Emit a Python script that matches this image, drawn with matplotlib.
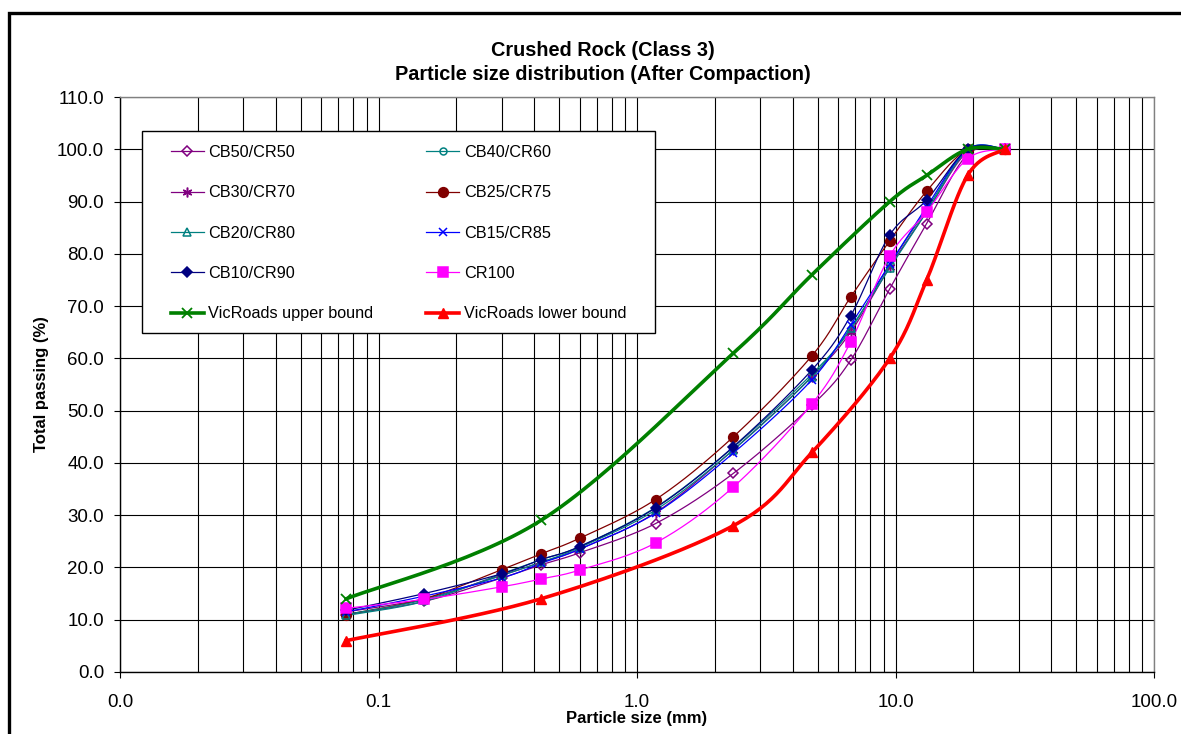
import numpy as np
import matplotlib.pyplot as plt
from matplotlib.lines import Line2D
from matplotlib.patches import Rectangle

plt.rcParams['font.family'] = ['Liberation Sans', 'DejaVu Sans']

# sieve sizes (mm)
sieve = [0.075, 0.15, 0.3, 0.425, 0.6, 1.18, 2.36, 4.75, 6.7, 9.5, 13.2, 19.0, 26.5]

# total passing (%) for each blend
cb50_cr50 = [11.0, 13.5, 18.0, 20.5, 22.8, 28.4, 38.0, 51.0, 59.6, 73.3, 85.8, 99.0, 100.0]
cb40_cr60 = [10.8, 13.5, 18.8, 21.5, 24.0, 31.5, 43.0, 57.0, 65.5, 78.0, 88.5, 100.0, 100.0]
cb30_cr70 = [11.5, 14.0, 18.5, 21.0, 23.5, 30.5, 42.5, 56.5, 65.0, 77.5, 88.0, 99.5, 100.0]
cb25_cr75 = [11.0, 14.0, 19.6, 22.6, 25.6, 33.0, 45.0, 60.5, 71.7, 82.5, 92.0, 100.0, 100.0]
cb20_cr80 = [11.0, 13.8, 18.5, 21.0, 23.8, 31.0, 42.5, 56.5, 65.8, 77.3, 88.0, 99.8, 100.0]
cb15_cr85 = [11.5, 14.5, 18.0, 20.8, 23.5, 30.4, 41.9, 55.9, 66.4, 78.0, 89.0, 100.0, 100.0]
cb10_cr90 = [11.8, 15.0, 18.8, 21.5, 24.0, 31.4, 43.1, 57.8, 68.1, 83.6, 90.3, 100.0, 100.0]
cr100 = [12.2, 13.9, 16.3, 17.8, 19.5, 24.7, 35.4, 51.3, 63.1, 79.6, 88.0, 98.2, 100.0]

# VicRoads grading envelope
bound_sieve = [0.075, 0.425, 2.36, 4.75, 9.5, 13.2, 19.0, 26.5]
upper_bound = [14.0, 29.0, 61.0, 76.0, 90.0, 95.0, 100.0, 100.0]
lower_bound = [6.0, 14.0, 28.0, 42.0, 60.0, 75.0, 95.0, 100.0]

W, H = 1181, 734
fig = plt.figure(figsize=(W / 100, H / 100), dpi=100)
ax = fig.add_axes([120 / W, (H - 672) / H, 1034 / W, 575 / H])
ax.set_xscale('log')
ax.set_xlim(0.01, 100)
ax.set_ylim(0, 110)


def smooth(x, y, n=30):
    # bezier smoothing done in screen space, like a spreadsheet "smoothed line"
    pts = ax.transData.transform(np.column_stack([x, y]))
    p = np.vstack([pts[0], pts, pts[-1]])
    out = []
    t = np.linspace(0, 1, n)[:, None]
    for i in range(1, len(p) - 2):
        p0, p1, p2, p3 = p[i - 1], p[i], p[i + 1], p[i + 2]
        c1 = p1 + (p2 - p0) / 6.0
        c2 = p2 - (p3 - p1) / 6.0
        seg = ((1 - t) ** 3) * p1 + 3 * ((1 - t) ** 2) * t * c1 + 3 * (1 - t) * t ** 2 * c2 + t ** 3 * p2
        out.append(seg if i == 1 else seg[1:])
    out = np.vstack(out)
    data = ax.transData.inverted().transform(out)
    return data[:, 0], data[:, 1]


series = [
    ('CB50/CR50', cb50_cr50, '#800080', 'D', 5, 'none', 0.9),
    ('CB40/CR60', cb40_cr60, '#008080', 'o', 5, 'none', 0.9),
    ('CB30/CR70', cb30_cr70, '#800080', (6, 2, 0), 7, '#800080', 0.9),
    ('CB25/CR75', cb25_cr75, '#800000', 'o', 7, '#800000', 0.9),
    ('CB20/CR80', cb20_cr80, '#008080', '^', 6, 'none', 0.9),
    ('CB15/CR85', cb15_cr85, '#0000FF', 'x', 6, '#0000FF', 0.9),
    ('CB10/CR90', cb10_cr90, '#000080', 'D', 5.5, '#000080', 0.9),
    ('CR100', cr100, '#FF00FF', 's', 6.5, '#FF00FF', 0.9),
]

handles = {}
for name, vals, col, mk, ms, mfc, lw in series:
    sx, sy = smooth(sieve, vals)
    ax.plot(sx, sy, color=col, lw=lw, zorder=3)
    ax.plot(sieve, vals, ls='none', marker=mk, ms=ms, mfc=mfc, mec=col, mew=1.1, zorder=4)
    handles[name] = Line2D([], [], color=col, lw=lw, marker=mk, ms=ms, mfc=mfc, mec=col, mew=1.1)

sx, sy = smooth(bound_sieve, upper_bound)
ax.plot(sx, sy, color='#008000', lw=2.6, zorder=5)
ax.plot(bound_sieve, upper_bound, ls='none', marker='x', ms=7, mec='#008000', mew=1.3, zorder=6)
handles['VicRoads upper bound'] = Line2D([], [], color='#008000', lw=2.6, marker='x', ms=7,
                                         mec='#008000', mew=1.3)

sx, sy = smooth(bound_sieve, lower_bound)
ax.plot(sx, sy, color='#FF0000', lw=2.6, zorder=5)
ax.plot(bound_sieve, lower_bound, ls='none', marker='^', ms=7, color='#FF0000', zorder=6)
handles['VicRoads lower bound'] = Line2D([], [], color='#FF0000', lw=2.6, marker='^', ms=7)

# grid: every decade and sub-decade, plus each 10 %
ax.grid(True, which='both', axis='x', color='black', lw=0.8)
ax.grid(True, which='major', axis='y', color='black', lw=0.8)
ax.set_axisbelow(True)

ax.set_xticks([0.01, 0.1, 1, 10, 100])
ax.set_xticklabels(['0.0', '0.1', '1.0', '10.0', '100.0'])
ax.set_yticks(np.arange(0, 111, 10))
ax.set_yticklabels(['%.1f' % v for v in np.arange(0, 111, 10)])
ax.tick_params(axis='both', which='major', labelsize=13.5, length=4.5, width=0.8, direction='out')
ax.tick_params(axis='y', which='major', pad=7)
ax.tick_params(axis='x', which='major', pad=11.5)
ax.tick_params(axis='x', which='minor', length=0)
for s in ax.spines.values():
    s.set_linewidth(1.0)
ax.spines['top'].set_color('#808080')
ax.spines['right'].set_color('#808080')

ax.set_xlabel('Particle size (mm)', fontsize=12, fontweight='bold', labelpad=0)
ax.set_ylabel('Total passing (%)', fontsize=12, fontweight='bold', labelpad=6)

order = ['CB50/CR50', 'CB30/CR70', 'CB20/CR80', 'CB10/CR90', 'VicRoads upper bound',
         'CB40/CR60', 'CB25/CR75', 'CB15/CR85', 'CR100', 'VicRoads lower bound']
leg = ax.legend([handles[k] for k in order], order, ncol=2, loc='upper left',
                bbox_to_anchor=(51 / 1034, (672 - 145) / 575),
                fontsize=11.7, frameon=False, labelspacing=1.56, handlelength=2.0,
                handletextpad=0.3, borderpad=0, borderaxespad=0, columnspacing=3.25)
leg.set_zorder(10)

# legend box
ax.add_patch(Rectangle((22 / 1034, 339 / 575), 513 / 1034, 202 / 575, transform=ax.transAxes,
                       facecolor='white', edgecolor='black', lw=1.0, zorder=9))

fig.text(603 / W, 1 - 51 / H, 'Crushed Rock (Class 3)', ha='center', va='center',
         fontsize=14.3, fontweight='bold')
fig.text(603 / W, 1 - 75 / H, 'Particle size distribution (After Compaction)', ha='center',
         va='center', fontsize=14.3, fontweight='bold')

# outer chart frame
fig.patches.append(Rectangle((9.5 / W, -0.1), 1.2, 1.1 - 13 / H, transform=fig.transFigure,
                             fill=False, edgecolor='black', lw=2.4))

fig.savefig('out.png', dpi=100)
